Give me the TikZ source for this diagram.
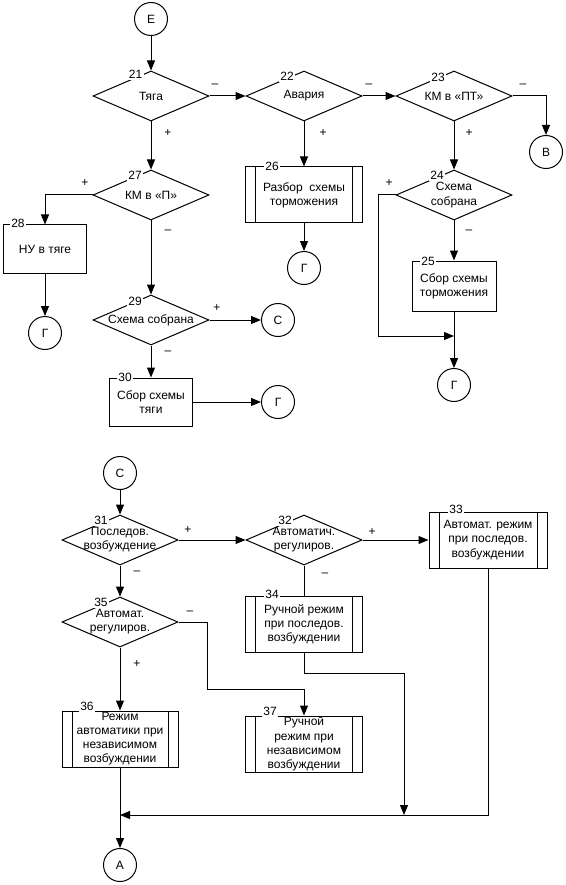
\documentclass[tikz,border=0pt]{standalone}
\usepackage{fontspec}
\setmainfont{Liberation Sans}
\usetikzlibrary{shapes.geometric,arrows.meta}
\tikzset{
  every node/.style={font=\fontsize{12}{14.2}\selectfont},
  dia/.style={diamond, draw, line width=1pt, fill=white, minimum width=116pt, minimum height=50pt, inner sep=0pt},
  boxn/.style={rectangle, draw, line width=1pt, fill=white, inner sep=0pt},
  pbox/.style={boxn, path picture={\draw[line width=1pt]
      ([xshift=10pt]path picture bounding box.north west) -- ([xshift=10pt]path picture bounding box.south west)
      ([xshift=-10pt]path picture bounding box.north east) -- ([xshift=-10pt]path picture bounding box.south east);}},
  circ/.style={circle, draw, line width=1pt, fill=white, minimum size=33pt, inner sep=0pt},
  num/.style={fill=white, inner sep=1.5pt},
  sgn/.style={inner sep=0pt},
  txt/.style={align=center, inner sep=0pt},
  arr/.style={-{Triangle[length=10pt,width=8pt]}, line width=1pt},
  ln/.style={line width=1pt}
}
\begin{document}
\begin{tikzpicture}[x=1pt,y=-1pt]
\useasboundingbox (0,0) rectangle (565,885);
% ---------- top part ----------
\node[circ] (E) at (151,19) {Е};
\node[dia] (d21) at (151,96) {};
\node[dia] (d22) at (304,96) {};
\node[dia] (d23) at (454,96) {};
\node[circ] (B) at (546,152) {В};
\node[dia] (d24) at (454,195) {};
\node[dia] (d27) at (151,195) {};
\node[pbox, minimum width=117pt, minimum height=56pt] (b26) at (304,195) {};
\node[boxn, minimum width=83pt, minimum height=48pt] (b28) at (45,249) {};
\node[circ] (G1) at (304,268) {Г};
\node[circ] (G2) at (45,333) {Г};
\node[dia] (d29) at (151,320) {};
\node[circ] (C1) at (278,320) {С};
\node[boxn, minimum width=83pt, minimum height=48pt] (b30) at (151,402) {};
\node[circ] (G3) at (278,402) {Г};
\node[boxn, minimum width=84pt, minimum height=50pt] (b25) at (454,286) {};
\node[circ] (G4) at (454,385) {Г};
% texts
\node[txt] (t21) at (d21) {Тяга};
\node[txt] (t22) at (d22) {Авария};
\node[txt] (t23) at (d23) {КМ в «ПТ»};
\node[txt] (t24) at (d24) {Схема\\собрана};
\node[txt] (t27) at (d27) {КМ в «П»};
\node[txt] (t26) at (b26) {Разбор\ \ схемы\\торможения};
\node[txt] (t28) at (b28) {НУ в тяге};
\node[txt] (t29) at (d29) {Схема собрана};
\node[txt] (t30) at (b30) {Сбор схемы\\тяги};
\node[txt] (t25) at (b25) {Сбор схемы\\торможения};
% connectors
\draw[arr] (E) -- (d21);
\draw[arr] (d21.east) -- (d22.west);
\draw[arr] (d22.east) -- (d23.west);
\draw[arr] (d23.east) -| (B.north);
\draw[arr] (d21.south) -- (d27.north);
\draw[arr] (d22.south) -- (b26.north);
\draw[arr] (d23.south) -- (d24.north);
\draw[arr] (d27.west) -| (b28.north);
\draw[arr] (b28.south) -- (G2.north);
\draw[arr] (d27.south) -- (d29.north);
\draw[arr] (d29.east) -- (C1.west);
\draw[arr] (d29.south) -- (b30.north);
\draw[arr] (b30.east) -- (G3.west);
\draw[arr] (b26.south) -- (G1.north);
\draw[arr] (d24.south) -- (b25.north);
\draw[arr] (b25.south) -- (G4.north);
\coordinate (j24) at (454,336);
\draw[arr] (d24.west) -- ++(-17,0) |- (j24);
% signs
\node[sgn] (s1) at (215,86) {–};
\node[sgn] (s2) at (369,86) {–};
\node[sgn] (s3) at (523,86) {–};
\node[sgn] (s4) at (168,133) {+};
\node[sgn] (s5) at (323,133) {+};
\node[sgn] (s6) at (469,133) {+};
\node[sgn] (s7) at (85,183) {+};
\node[sgn] (s8) at (389,183) {+};
\node[sgn] (s9) at (168,232) {–};
\node[sgn] (s10) at (469,232) {–};
\node[sgn] (s11) at (217,308) {+};
\node[sgn] (s12) at (168,353) {–};
% numbers
\node[num] (n21) at (135.5,74) {21};
\node[num] (n22) at (287,76) {22};
\node[num] (n23) at (438,77) {23};
\node[num] (n24) at (437,175) {24};
\node[num] (n25) at (428,261) {25};
\node[num] (n26) at (272,166) {26};
\node[num] (n27) at (135,175) {27};
\node[num] (n28) at (18,223) {28};
\node[num] (n29) at (135,301) {29};
\node[num] (n30) at (125,377) {30};
% ---------- bottom part ----------
\node[circ] (C2) at (120,473) {С};
\node[dia] (d31) at (120,540) {};
\node[dia] (d32) at (304,540) {};
\node[pbox, minimum width=118pt, minimum height=56pt] (b33) at (488,540) {};
\node[pbox, minimum width=117pt, minimum height=56pt] (b34) at (304,624) {};
\node[dia] (d35) at (120,622) {};
\node[pbox, minimum width=116pt, minimum height=56pt] (b36) at (120,739) {};
\node[pbox, minimum width=117pt, minimum height=56pt] (b37) at (304,744) {};
\node[circ] (A) at (120,865) {А};
\node[txt] (t31) at (d31) {Последов.\\возбуждение};
\node[txt] (t32) at (304,539.5) {Автоматич.\\регулиров.};
\node[txt] (t33) at (b33) {Автомат. режим\\при последов.\\возбуждении};
\node[txt] (t34) at (b34) {Ручной режим\\при последов.\\возбуждении};
\node[txt] (t35) at (d35) {Автомат.\\регулиров.};
\node[txt] (t36) at (120,738.5) {Режим\\автоматики при\\независимом\\возбуждении};
\node[txt] (t37) at (b37) {Ручной\\режим при\\независимом\\возбуждении};
\draw[arr] (C2) -- (d31);
\draw[arr] (d31.east) -- (d32.west);
\draw[arr] (d32.east) -- (b33.west);
\draw[ln] (d32.south) -- (b34.north);
\draw[arr] (d31.south) -- (d35.north);
\draw[arr] (d35.south) -- (b36.north);
\draw[arr] (d35.east) -- (207,622) -- (207,689) -| (b37.north);
\draw[arr] (b36.south) -- (A.north);
\coordinate (j34) at (404,815);
\coordinate (j36) at (120,815);
\draw[arr] (b34.south) -- (304,673) -| (j34);
\draw[arr] (b33.south) -- (488,815) -- (j36);
\node[sgn] (s13) at (188,530) {+};
\node[sgn] (s14) at (137,573) {–};
\node[sgn] (s15) at (372,532) {+};
\node[sgn] (s16) at (325,575) {–};
\node[sgn] (s17) at (190,613) {–};
\node[sgn] (s18) at (137,664) {+};
\node[num] (n31) at (101,520) {31};
\node[num] (n32) at (285,520) {32};
\node[num] (n33) at (456,509) {33};
\node[num] (n34) at (272,594) {34};
\node[num] (n35) at (101,602) {35};
\node[num] (n36) at (87,706) {36};
\node[num] (n37) at (270,711) {37};
\end{tikzpicture}
\end{document}
